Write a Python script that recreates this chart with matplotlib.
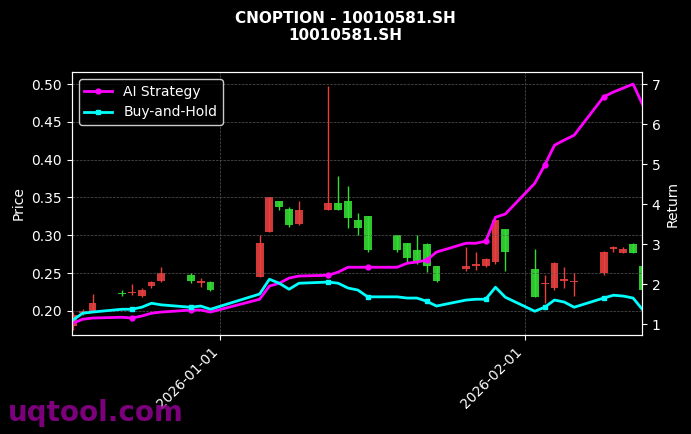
import matplotlib
matplotlib.use("Agg")
import matplotlib.pyplot as plt
import matplotlib.dates as mdates
import pandas as pd
import numpy as np

dates = ["2025-12-17","2025-12-18","2025-12-19","2025-12-22","2025-12-23","2025-12-24","2025-12-25",
         "2025-12-26","2025-12-29","2025-12-30","2025-12-31","2026-01-05","2026-01-06","2026-01-07",
         "2026-01-08","2026-01-09","2026-01-12","2026-01-13","2026-01-14","2026-01-15","2026-01-16",
         "2026-01-19","2026-01-20","2026-01-21","2026-01-22","2026-01-23","2026-01-26","2026-01-27",
         "2026-01-28","2026-01-29","2026-01-30","2026-02-02","2026-02-03","2026-02-04","2026-02-05",
         "2026-02-06","2026-02-09","2026-02-10","2026-02-11","2026-02-12","2026-02-13"]
opens  = [0.180,0.197,0.200,0.224,0.223,0.220,0.233,0.240,0.248,0.237,0.238,0.245,0.305,0.345,0.335,0.315,
          0.333,0.343,0.345,0.320,0.325,0.300,0.290,0.280,0.288,0.260,0.255,0.260,0.260,0.265,0.308,
          0.255,0.235,0.230,0.240,0.238,0.250,0.282,0.277,0.288,0.260]
closes = [0.195,0.200,0.210,0.222,0.223,0.228,0.238,0.250,0.240,0.240,0.228,0.290,0.350,0.338,0.313,0.333,
          0.343,0.333,0.323,0.310,0.280,0.280,0.270,0.265,0.260,0.240,0.260,0.260,0.268,0.320,0.278,
          0.218,0.235,0.263,0.240,0.238,0.278,0.284,0.282,0.277,0.228]
highs  = [0.198,0.202,0.222,0.228,0.235,0.230,0.240,0.258,0.250,0.243,0.240,0.300,0.350,0.346,0.337,0.345,
          0.497,0.378,0.365,0.330,0.325,0.300,0.290,0.300,0.290,0.260,0.285,0.278,0.270,0.322,0.308,
          0.282,0.247,0.265,0.258,0.250,0.279,0.286,0.285,0.290,0.262]
lows   = [0.175,0.195,0.198,0.220,0.221,0.218,0.230,0.238,0.237,0.232,0.226,0.245,0.305,0.333,0.311,0.313,
          0.333,0.333,0.310,0.300,0.278,0.278,0.265,0.262,0.252,0.238,0.253,0.254,0.258,0.262,0.253,
          0.218,0.210,0.228,0.230,0.220,0.248,0.278,0.276,0.276,0.226]
ai_return = [1.02,1.12,1.15,1.17,1.15,1.20,1.27,1.30,1.35,1.35,1.30,1.62,1.95,2.02,2.15,2.20,2.22,2.30,2.42,
             2.42,2.42,2.42,2.52,2.55,2.60,2.80,3.02,3.02,3.07,3.67,3.75,4.52,4.97,5.47,5.60,5.72,6.68,
             6.80,6.90,7.00,6.47]
bh_return = [1.10,1.27,1.30,1.37,1.37,1.42,1.52,1.48,1.42,1.45,1.37,1.75,2.12,2.02,1.87,2.02,2.05,2.02,1.90,
             1.85,1.68,1.68,1.65,1.65,1.57,1.45,1.60,1.62,1.62,1.92,1.67,1.32,1.42,1.60,1.55,1.42,1.65,
             1.72,1.70,1.65,1.35]
mark_idx = [4, 8, 16, 20, 24, 28, 32, 36]

d = pd.to_datetime(dates)
x = mdates.date2num(d)

fig = plt.figure(figsize=(6.91, 4.34), dpi=100, facecolor="black")
ax = fig.add_axes([0.104, 0.228, 0.825, 0.606], facecolor="black")
up_c, dn_c = "#e8403f", "#33dd33"
for xi, o, c, h, l in zip(x, opens, closes, highs, lows):
    col = up_c if c >= o else dn_c
    ax.vlines(xi, l, h, color=col, lw=1)
    ax.bar(xi, max(abs(c - o), 0.0015), bottom=min(o, c), width=0.8, color=col, alpha=0.9)
ax.set_ylim(0.168, 0.516)
ax.set_xlim(mdates.date2num(pd.Timestamp("2025-12-17")) - 0.1, mdates.date2num(pd.Timestamp("2026-02-13")) - 0.1)
ax.set_ylabel("Price", color="white")
ax.grid(True, ls="--", color="#555555", lw=0.5)
ax.xaxis.set_major_locator(mdates.MonthLocator())
ax.xaxis.set_major_formatter(mdates.DateFormatter("%Y-%m-%d"))
plt.setp(ax.get_xticklabels(), rotation=45, ha="right")

ax2 = ax.twinx()
ax2.plot(x, ai_return, color="#ff00ff", lw=2, marker="o", ms=3.5, markevery=mark_idx, label="AI Strategy")
ax2.plot(x, bh_return, color="#00ffff", lw=2, marker="s", ms=3.5, markevery=mark_idx, label="Buy-and-Hold")
ax2.set_ylim(0.725, 7.3)
ax2.set_ylabel("Return", color="white")
for a in (ax, ax2):
    a.tick_params(colors="white")
    for s in a.spines.values():
        s.set_color("white")
leg = ax2.legend(loc="upper left", facecolor="black", edgecolor="white", labelcolor="white")

fig.suptitle("CNOPTION - 10010581.SH\n10010581.SH", color="white", fontweight="bold", fontsize=11, y=0.975)
fig.text(0.012, 0.03, "uqtool.com", color="#8b008b", fontsize=20, fontweight="bold", alpha=0.9)
fig.savefig("out.png", dpi=100, facecolor="black")
